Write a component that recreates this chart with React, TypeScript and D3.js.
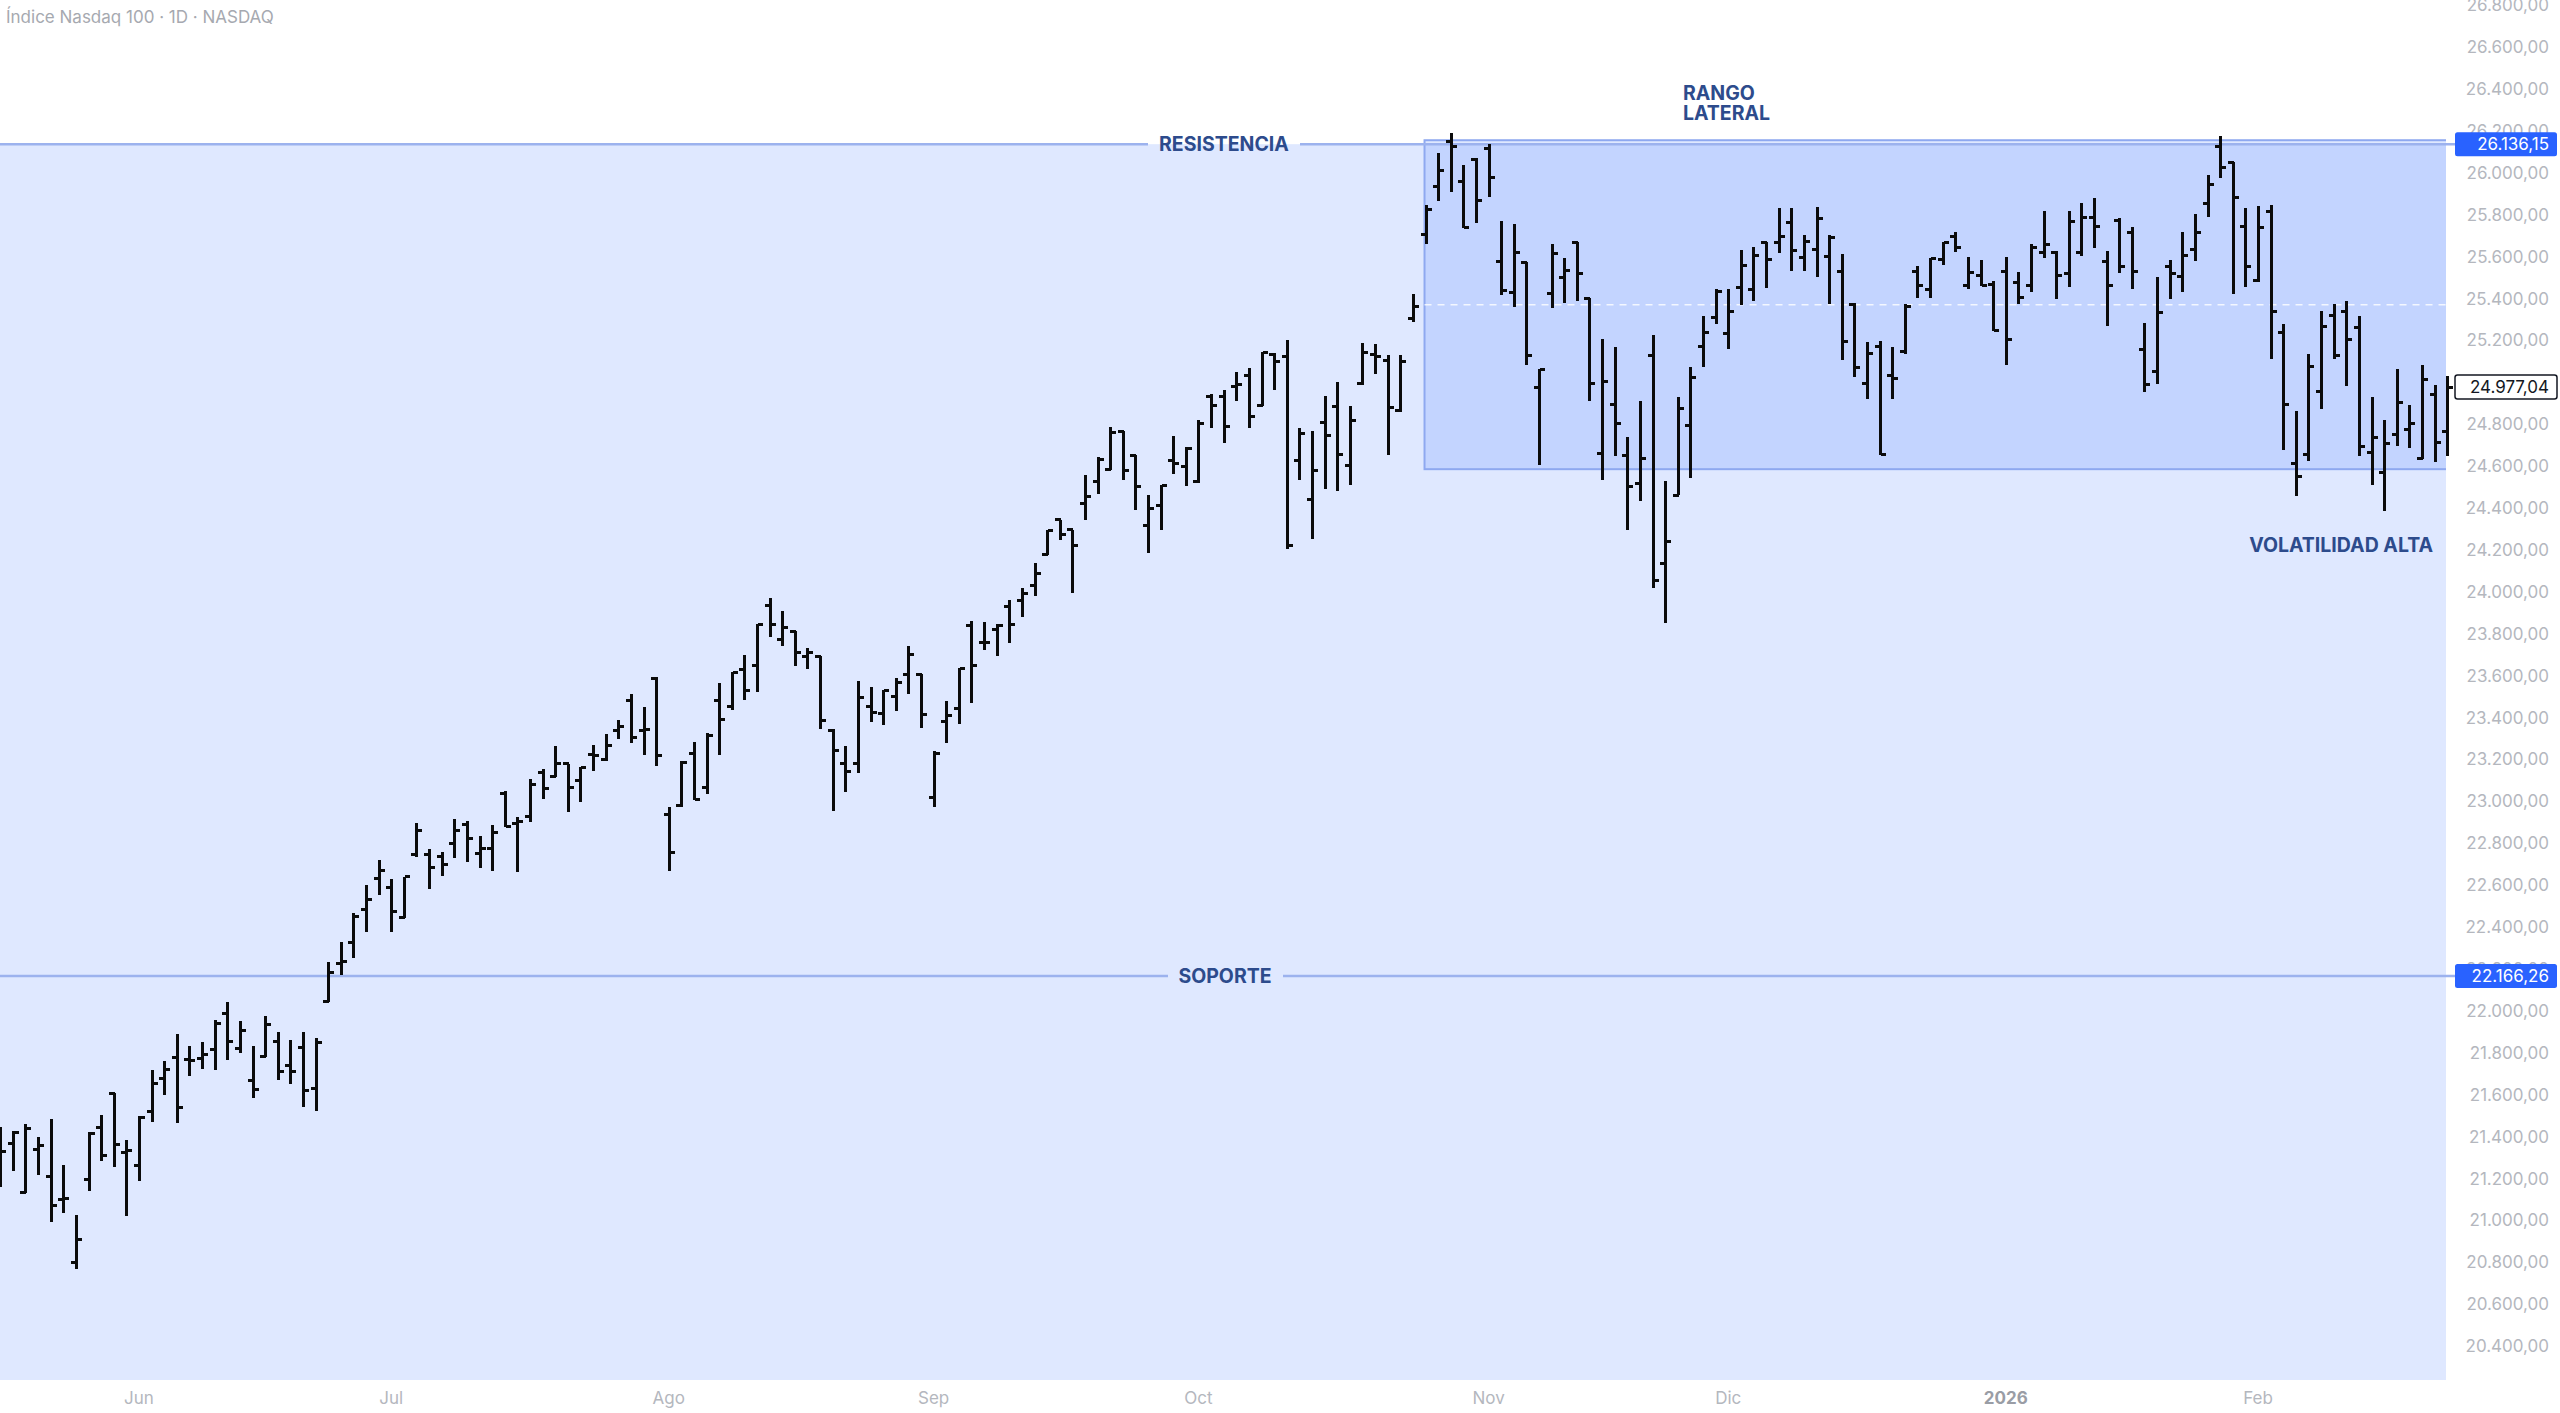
import * as d3 from 'd3'

// OHLC diario, índice 0 = 15 may 2025 … índice 194 = 24 feb 2026
const opens = [
  21380, 21367, 21135, 21340, 21208, 21098, 20798, 21193, 21444, 21606,
  21323, 21260, 21520, 21679, 21777, 21767, 21772, 21813, 21989, 21821,
  21667, 21781, 21853, 21738, 21826, 21630, 22045, 22225, 22324, 22483,
  22631, 22589, 22447, 22746, 22746, 22734, 22797, 22887, 22751, 22776,
  23036, 22896, 22927, 23135, 23118, 23178, 23097, 23224, 23198, 23340,
  23480, 23340, 23588, 22939, 22978, 23229, 23064, 23483, 23451, 23627,
  23647, 23934, 23770, 23810, 23690, 23690, 23338, 23180, 23180, 23451,
  23419, 23499, 23603, 23607, 23018, 23380, 23443, 23838, 23757, 23818,
  23929, 23958, 24028, 24176, 24344, 24296, 24420, 24527, 24582, 24763,
  24651, 24316, 24410, 24626, 24598, 24527, 24933, 24933, 24980, 25033,
  24888, 25130, 25125, 24627, 24439, 24809, 24882, 24602, 24992, 25133,
  25105, 24865, 25303, 25706, 25934, 26147, 25956, 26061, 26115, 25578,
  25430, 25570, 24976, 25424, 25499, 25667, 25400, 24662, 24893, 24649,
  24519, 25129, 24136, 24460, 24793, 25169, 25308, 25231, 25451, 25443,
  25665, 25665, 25762, 25597, 25634, 25599, 25530, 25371, 24992, 25172,
  25033, 25145, 25527, 25443, 25587, 25695, 25464, 25510, 25467, 25527,
  25475, 25464, 25618, 25618, 25518, 25618, 25785, 25575, 25773, 25714,
  25156, 25049, 25554, 25507, 25634, 25854, 26123, 26048, 25742, 25485,
  25817, 25236, 24614, 24654, 24954, 25319, 25336, 25263, 24665, 24567,
  24750, 24774, 24637, 24941, 24766,
]
const highs = [
  21443, 21424, 21460, 21399, 21482, 21262, 21023, 21423, 21503, 21608,
  21383, 21498, 21715, 21762, 21887, 21832, 21852, 21957, 22041, 21949,
  21834, 21976, 21898, 21861, 21901, 21869, 22235, 22329, 22465, 22602,
  22722, 22631, 22640, 22896, 22773, 22759, 22916, 22904, 22836, 22887,
  23050, 22927, 23104, 23152, 23263, 23178, 23164, 23268, 23323, 23388,
  23510, 23451, 23591, 22973, 23190, 23285, 23327, 23563, 23619, 23698,
  23845, 23969, 23910, 23815, 23733, 23693, 23343, 23265, 23575, 23547,
  23531, 23587, 23743, 23607, 23241, 23480, 23635, 23862, 23854, 23846,
  23961, 24017, 24139, 24296, 24344, 24296, 24555, 24643, 24785, 24766,
  24651, 24463, 24511, 24745, 24691, 24818, 24944, 24962, 25049, 25068,
  25145, 25140, 25201, 24782, 24769, 24936, 25002, 24888, 25188, 25183,
  25129, 25129, 25420, 25844, 26096, 26189, 26037, 26068, 26139, 25769,
  25757, 25573, 25064, 25658, 25594, 25667, 25400, 25204, 25167, 24737,
  24909, 25225, 24527, 24928, 25073, 25315, 25443, 25445, 25629, 25647,
  25667, 25830, 25833, 25701, 25838, 25701, 25610, 25379, 25191, 25196,
  25169, 25371, 25554, 25594, 25669, 25717, 25599, 25582, 25483, 25599,
  25526, 25658, 25817, 25626, 25817, 25857, 25881, 25626, 25785, 25741,
  25284, 25504, 25582, 25717, 25805, 25989, 26173, 26051, 25833, 25841,
  25844, 25280, 24861, 25135, 25342, 25371, 25390, 25315, 24930, 24822,
  25065, 24893, 25081, 24989, 25029,
]
const lows = [
  21157, 21237, 21130, 21216, 20990, 21034, 20766, 21138, 21284, 21252,
  21021, 21189, 21468, 21598, 21463, 21687, 21722, 21717, 21767, 21797,
  21582, 21778, 21670, 21651, 21542, 21523, 22041, 22170, 22250, 22375,
  22554, 22378, 22443, 22734, 22580, 22643, 22728, 22708, 22682, 22665,
  22876, 22660, 22900, 23012, 23118, 22951, 22995, 23143, 23190, 23297,
  23280, 23220, 23169, 22665, 22973, 23005, 23037, 23220, 23435, 23483,
  23520, 23786, 23743, 23646, 23631, 23343, 22954, 23042, 23136, 23376,
  23364, 23432, 23510, 23352, 22973, 23276, 23368, 23470, 23722, 23695,
  23757, 23881, 23980, 24173, 24245, 23996, 24344, 24468, 24579, 24535,
  24388, 24187, 24296, 24562, 24503, 24519, 24782, 24710, 24909, 24782,
  24885, 24965, 24203, 24535, 24253, 24492, 24479, 24511, 24989, 25041,
  24654, 24857, 25287, 25658, 25865, 25908, 25738, 25758, 25886, 25414,
  25360, 25080, 24603, 25352, 25379, 25387, 24909, 24535, 24649, 24296,
  24431, 24017, 23850, 24460, 24543, 25073, 25279, 25159, 25368, 25387,
  25451, 25618, 25530, 25530, 25504, 25371, 25104, 25024, 24922, 24651,
  24922, 25136, 25403, 25403, 25558, 25621, 25443, 25460, 25244, 25084,
  25371, 25430, 25594, 25398, 25456, 25602, 25639, 25268, 25523, 25443,
  24952, 24992, 25398, 25432, 25578, 25789, 25973, 25419, 25456, 25478,
  25111, 24678, 24455, 24622, 24873, 25111, 24981, 24646, 24511, 24383,
  24697, 24686, 24634, 24619, 24646,
]
const closes = [
  21329, 21421, 21436, 21359, 21069, 21103, 20908, 21412, 21308, 21361,
  21331, 21490, 21654, 21718, 21539, 21762, 21789, 21941, 21853, 21904,
  21624, 21933, 21711, 21711, 21619, 21850, 22185, 22235, 22452, 22529,
  22671, 22473, 22640, 22862, 22682, 22700, 22862, 22824, 22776, 22850,
  22880, 22904, 23079, 23063, 23178, 23067, 23160, 23217, 23268, 23357,
  23306, 23343, 23217, 22756, 23183, 23010, 23316, 23388, 23616, 23528,
  23842, 23846, 23829, 23709, 23709, 23384, 23244, 23141, 23494, 23424,
  23528, 23566, 23701, 23415, 23230, 23411, 23632, 23647, 23757, 23838,
  23846, 23993, 24089, 24290, 24272, 24221, 24455, 24630, 24761, 24579,
  24503, 24396, 24506, 24611, 24683, 24802, 24888, 24787, 24988, 24837,
  25140, 25100, 24220, 24753, 24578, 24745, 24657, 24817, 25141, 25125,
  24877, 25100, 25360, 25825, 26012, 26123, 25740, 25865, 25977, 25438,
  25618, 25129, 25060, 25615, 25535, 25518, 24992, 25005, 24801, 24503,
  24638, 24052, 24240, 24874, 25021, 25236, 25435, 25339, 25559, 25605,
  25586, 25695, 25629, 25674, 25781, 25693, 25196, 25068, 25137, 24655,
  25020, 25363, 25462, 25590, 25666, 25645, 25526, 25462, 25248, 25204,
  25406, 25642, 25655, 25510, 25769, 25785, 25742, 25464, 25550, 25530,
  24989, 25331, 25519, 25605, 25717, 25942, 26024, 25884, 25554, 25740,
  25336, 24893, 24548, 25076, 25268, 25127, 25204, 24691, 24734, 24707,
  24901, 24802, 25013, 24710, 24977.04,
]

const monthTicks = [
  { label: 'Jun', index: 11 },
  { label: 'Jul', index: 31 },
  { label: 'Ago', index: 53 },
  { label: 'Sep', index: 74 },
  { label: 'Oct', index: 95 },
  { label: 'Nov', index: 118 },
  { label: 'Dic', index: 137 },
  { label: '2026', index: 159, year: true },
  { label: 'Feb', index: 179 },
]

const priceTicks = d3.range(20400, 26801, 200)

const resistance = 26136.15
const support = 22166.26
const rangeTop = 26155
const rangeBottom = 24585
const rangeStartIndex = 113
const lastPrice = closes[closes.length - 1]

const W = 2560
const H = 1413
const plotRight = 2446
const plotBottom = 1380
const font = 'Inter, "Noto Sans", sans-serif'
const navy = '#2d4b8c'
const labelSize = 19.5

const esES = d3.formatLocale({ decimal: ',', thousands: '.', grouping: [3], currency: ['', ''] })
const fmt = esES.format(',.2f')

export default function App() {
  const x = d3.scaleLinear().domain([0, 194]).range([0.26, 0.26 + 194 * 12.613])
  const y = d3.scaleLinear().domain([20400, 26600]).range([1346, 47])

  const bars = opens.map((o, i) => {
    const cx = Math.round(x(i)) + 0.5
    return `M${cx},${y(highs[i])}V${y(lows[i])}M${cx - 5.5},${y(o)}H${cx}M${cx},${y(closes[i])}H${cx + 5.5}`
  }).join('')

  const rx0 = x(rangeStartIndex) - 1
  const midRange = (rangeTop + rangeBottom) / 2
  const lineColor = '#9cb2ee'

  const priceBox = (v: number, fill: string, text: string, stroke?: string) => (
    <g>
      <rect x={2455} y={y(v) - 12} width={102} height={24} rx={2.5}
        fill={fill} stroke={stroke ?? 'none'} strokeWidth={stroke ? 1.5 : 0} />
      <text x={2549} y={y(v)} dy="0.36em" textAnchor="end" fontSize={17} fill={text}>{fmt(v)}</text>
    </g>
  )

  return (
    <div style={{ position: 'fixed', left: 0, top: 0, width: W, height: H, background: '#fff' }}>
      <svg width={W} height={H} style={{ display: 'block', fontFamily: font }}>
        <defs>
          <clipPath id="plot">
            <rect x={0} y={0} width={plotRight} height={plotBottom} />
          </clipPath>
        </defs>

        <g clipPath="url(#plot)">
          {/* zona bajo la resistencia */}
          <rect x={0} y={y(resistance)} width={plotRight} height={plotBottom - y(resistance)}
            fill="rgba(41,98,255,0.15)" />
          {/* rango lateral */}
          <rect x={rx0} y={y(rangeTop)} width={plotRight - rx0 + 10} height={y(rangeBottom) - y(rangeTop)}
            fill="rgba(41,98,255,0.15)" stroke="#8ea8f0" strokeWidth={2} />
          <line x1={rx0} x2={plotRight} y1={y(midRange)} y2={y(midRange)}
            stroke="#fff" strokeOpacity={0.8} strokeWidth={1.5} strokeDasharray="7 6" />
        </g>

        {/* resistencia */}
        <line x1={0} x2={1148} y1={y(resistance)} y2={y(resistance)} stroke={lineColor} strokeWidth={2.5} />
        <line x1={1300} x2={2455} y1={y(resistance)} y2={y(resistance)} stroke={lineColor} strokeWidth={2.5} />
        <text x={1224} y={y(resistance)} dy="0.36em" textAnchor="middle" fontSize={labelSize} fontWeight={700}
          fill={navy}>RESISTENCIA</text>

        {/* soporte */}
        <line x1={0} x2={1168} y1={y(support)} y2={y(support)} stroke={lineColor} strokeWidth={2.5} />
        <line x1={1283} x2={2455} y1={y(support)} y2={y(support)} stroke={lineColor} strokeWidth={2.5} />
        <text x={1225} y={y(support)} dy="0.36em" textAnchor="middle" fontSize={labelSize} fontWeight={700}
          fill={navy}>SOPORTE</text>

        <text x={1683} y={100} fontSize={labelSize} fontWeight={700} fill={navy}>RANGO</text>
        <text x={1683} y={120} fontSize={labelSize} fontWeight={700} fill={navy}>LATERAL</text>
        <text x={2433} y={552} textAnchor="end" fontSize={labelSize} fontWeight={700} fill={navy}>VOLATILIDAD ALTA</text>

        <path d={bars} stroke="#0b0b0b" strokeWidth={3} fill="none" shapeRendering="crispEdges" />

        {/* eje de precios */}
        {priceTicks.map(v => (
          <text key={v} x={2549} y={y(v)} dy="0.36em" textAnchor="end" fontSize={17} fill="#b4b7be">{fmt(v)}</text>
        ))}
        {priceBox(resistance, '#2962ff', '#fff')}
        {priceBox(support, '#2962ff', '#fff')}
        {priceBox(lastPrice, '#fff', '#131722', '#131722')}

        {/* eje temporal */}
        {monthTicks.map(t => (
          <text key={t.label} x={x(t.index)} y={1404} textAnchor="middle" fontSize={17}
            fontWeight={t.year ? 700 : 400} fill={t.year ? '#9a9da5' : '#b4b7be'}>{t.label}</text>
        ))}

        <text x={6} y={23} fontSize={17} fill="#a6a9b0">Índice Nasdaq 100 · 1D · NASDAQ</text>
      </svg>
    </div>
  )
}
